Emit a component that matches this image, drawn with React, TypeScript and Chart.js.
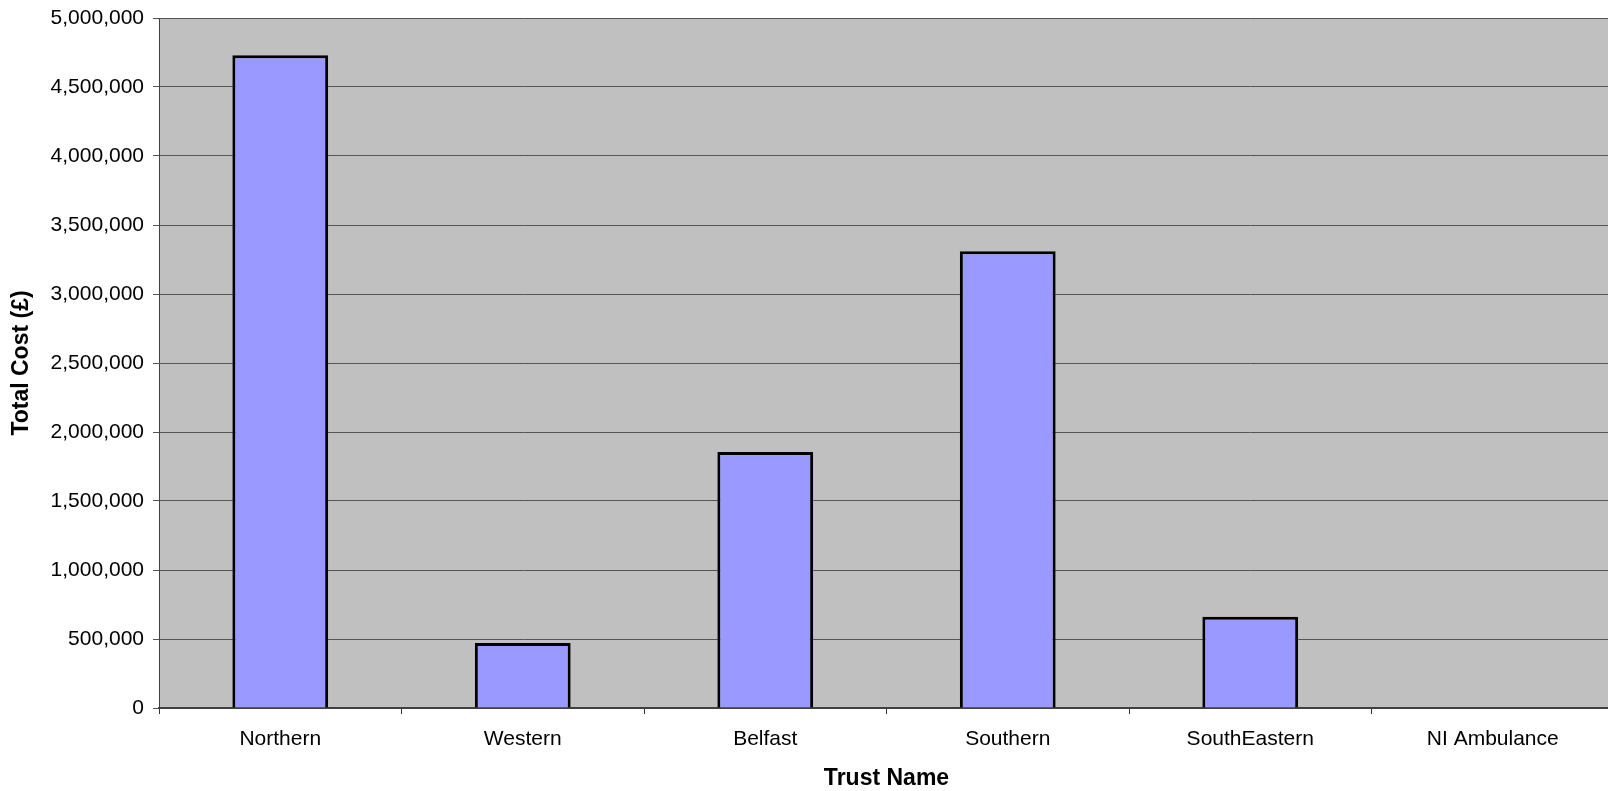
import React, { useEffect, useRef } from "react";
import { Chart, registerables } from "chart.js";

Chart.register(...registerables);

const categories: string[] = ["Northern", "Western", "Belfast", "Southern", "SouthEastern", "NI Ambulance"];
const totalCost: number[] = [4730000, 471000, 1855000, 3309000, 662000, 0];
const yMin = 0;
const yMax = 5000000;
const yStep = 500000;

const FONT = "'Liberation Sans', Arial, sans-serif";

const plotBg = {
  id: "plotBg",
  beforeDraw(chart: any) {
    const { ctx, chartArea } = chart;
    if (!chartArea) return;
    ctx.save();
    ctx.fillStyle = "#C0C0C0";
    ctx.fillRect(chartArea.left, chartArea.top, chartArea.right - chartArea.left, chartArea.bottom - chartArea.top);
    ctx.restore();
  },
};

export default function App() {
  const ref = useRef<HTMLCanvasElement | null>(null);

  useEffect(() => {
    if (!ref.current) return;
    const chart = new Chart(ref.current, {
      type: "bar",
      data: {
        labels: categories,
        datasets: [
          {
            label: "Total Cost (£)",
            data: totalCost,
            backgroundColor: "#9999FF",
            borderColor: "#000000",
            borderWidth: 3,
            categoryPercentage: 1,
            barPercentage: 0.395,
          },
        ],
      },
      plugins: [plotBg],
      options: {
        responsive: false,
        animation: false,
        devicePixelRatio: 1,
        layout: { padding: { left: 0, right: 0, top: 18, bottom: 0 } },
        plugins: {
          legend: { display: false },
          tooltip: { enabled: false },
          title: { display: false },
        },
        scales: {
          x: {
            afterFit(scale: any) {
              scale.height = 83;
            },
            grid: {
              display: true,
              drawOnChartArea: false,
              drawTicks: true,
              tickLength: 6,
              color: "#333333",
              offset: true,
            },
            border: { display: true, color: "#404040", width: 2 },
            ticks: {
              color: "#000000",
              padding: 13,
              font: { family: FONT, size: 21 },
              maxRotation: 0,
              autoSkip: false,
            },
            title: {
              display: true,
              text: "Trust Name",
              color: "#000000",
              font: { family: FONT, size: 23, weight: "bold", lineHeight: 1.1 },
              padding: { top: 0, bottom: 0 },
            },
          },
          y: {
            min: yMin,
            max: yMax,
            afterFit(scale: any) {
              scale.width = 159;
              scale.paddingTop = 0;
              scale.paddingBottom = 0;
            },
            grid: {
              color: "#555555",
              lineWidth: 1,
              tickLength: 6,
              drawTicks: true,
            },
            border: { display: true, color: "#404040", width: 1 },
            ticks: {
              stepSize: yStep,
              color: "#000000",
              padding: 9,
              font: { family: FONT, size: 21 },
              callback: (v: any) => Number(v).toLocaleString("en-US"),
            },
            title: {
              display: true,
              text: "Total Cost (£)",
              color: "#000000",
              font: { family: FONT, size: 23, weight: "bold" },
              padding: { top: 8, bottom: 0 },
            },
          },
        },
      },
    } as any);
    return () => chart.destroy();
  }, []);

  return (
    <div
      style={{
        position: "absolute",
        left: 0,
        top: 0,
        width: 1608,
        height: 791,
        overflow: "hidden",
        background: "#ffffff",
      }}
    >
      <canvas ref={ref} width={1614} height={791} style={{ display: "block", width: 1614, height: 791 }} />
    </div>
  );
}
